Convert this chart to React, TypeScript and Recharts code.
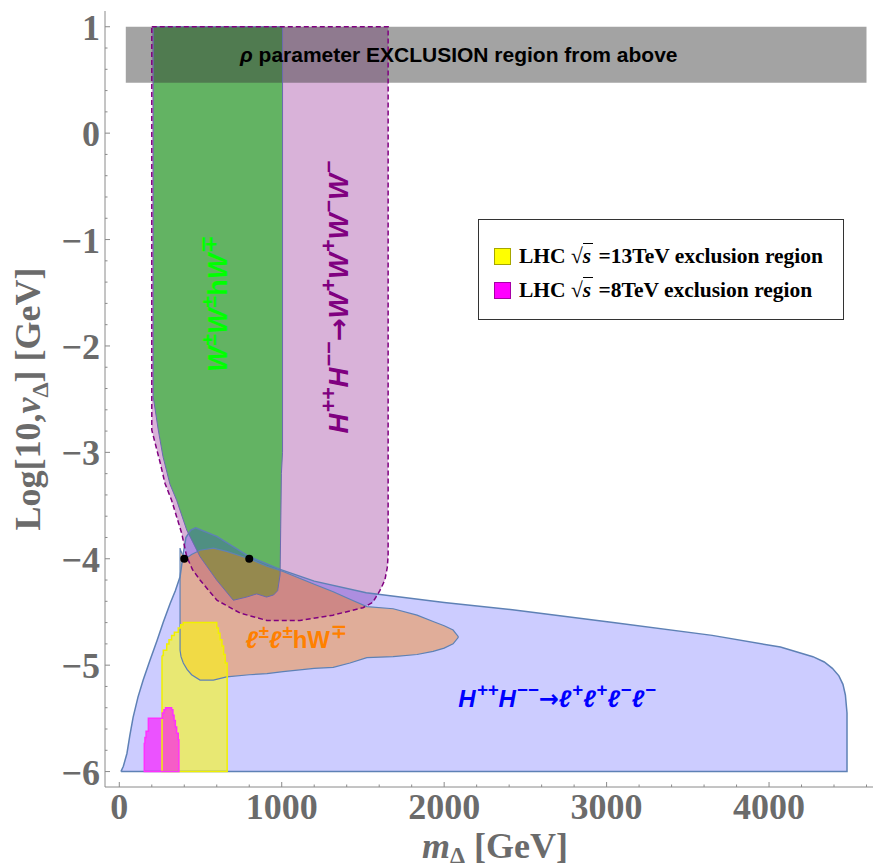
import { ComposedChart, Area, Line, Scatter, XAxis, YAxis, Legend, Label } from 'recharts';

// plot limits that close the regions
const V_MIN = -6;
const V_TOP = 1;

// H++H-- -> l+l+l-l- (blue)
const leptonMass = [10, 25, 47, 65, 85, 115, 147, 190, 232, 270, 313, 345, 374, 392, 410, 440, 470, 600, 800, 990, 1200, 1520, 2000, 2420, 3040, 3650, 4070, 4270, 4340, 4390, 4430, 4455, 4470, 4480];
const leptonUpper = [-6, -5.95, -5.83, -5.66, -5.49, -5.3, -5.14, -4.95, -4.77, -4.6, -4.42, -4.3, -4.17, -3.97, -3.8, -3.73, -3.71, -3.79, -3.98, -4.1, -4.21, -4.32, -4.41, -4.48, -4.6, -4.72, -4.83, -4.92, -4.97, -5.03, -5.1, -5.18, -5.28, -5.45];

// l±l±hW∓ (orange)
const hwMass = [374, 380, 394, 417, 445, 497, 579, 661, 800, 909, 1008, 1200, 1317, 1420, 1524, 1686, 1833, 1932, 2000, 2055, 2086];
const hwUpper = [-3.9, -3.93, -3.98, -3.99, -3.96, -3.92, -3.9, -3.93, -4.0, -4.07, -4.12, -4.24, -4.31, -4.38, -4.45, -4.47, -4.53, -4.59, -4.63, -4.67, -4.73];
const hwLower = [-4.86, -4.92, -4.98, -5.04, -5.09, -5.14, -5.14, -5.11, -5.09, -5.08, -5.06, -5.03, -5.02, -4.98, -4.93, -4.92, -4.9, -4.87, -4.84, -4.8, -4.74];

// H++H-- -> W+W+W-W- (purple, dashed)
const wwwwMass = [200, 220, 252, 281, 322, 384, 415, 450, 497, 601, 743, 909, 1112, 1315, 1500, 1560, 1604, 1635, 1650, 1655];
const wwwwLower = [-2.79, -2.91, -3.1, -3.29, -3.45, -3.76, -3.98, -4.1, -4.2, -4.39, -4.51, -4.58, -4.58, -4.53, -4.46, -4.41, -4.3, -4.2, -4.08, -3.97];

// W±W±hW∓ (green)
const wwhwMass = [209, 240, 269, 312, 353, 415, 497, 599, 702, 784, 846, 907, 950, 975, 990, 998, 1005];
const wwhwLower = [-2.48, -2.79, -3.04, -3.3, -3.45, -3.73, -3.98, -4.2, -4.39, -4.36, -4.33, -4.36, -4.34, -4.3, -4.15, -3.2, -3.0];

// LHC exclusions (stepped)
const lhc13Mass = [263, 271, 292, 306, 322, 339, 363, 378, 394, 600, 610, 620, 632, 642, 652, 664];
const lhc13Upper = [-4.91, -4.86, -4.8, -4.76, -4.72, -4.69, -4.65, -4.62, -4.6, -4.65, -4.7, -4.76, -4.82, -4.9, -4.98, -5.02];
const lhc8Mass = [154, 158, 165, 179, 265, 275, 285, 322, 330, 337, 345, 353, 363, 367];
const lhc8Upper = [-5.73, -5.68, -5.62, -5.5, -5.45, -5.42, -5.4, -5.42, -5.47, -5.52, -5.58, -5.64, -5.7, -5.7];

// rho parameter band
const rhoMass = [40, 4600];
const rhoLower = [0.474, 0.474];
const rhoUpper = [1, 1];

// benchmark points
const benchMass = [400, 800];
const benchV = [-4, -4];

const LEGEND_ENERGY = ['13TeV', '8TeV'];
const LEGEND_COLORS = ['#ffff00', '#ff00ff'];

const FRAME = '#8a8a8a';
const TICK_TEXT = '#6b6b6b';
const SERIF = '"Liberation Serif", "Times New Roman", serif';
const SANS = '"Liberation Sans", Arial, sans-serif';

type Row = { m: number; lo: number; hi: number };

const toRows = (mass: number[], lower: number[] | number, upper: number[] | number): Row[] =>
  mass.map((m, i) => ({
    m,
    lo: Array.isArray(lower) ? lower[i] : lower,
    hi: Array.isArray(upper) ? upper[i] : upper,
  }));

// closed outline: upper edge left->right, lower edge right->left
const toOutline = (rows: Row[]) => [
  ...rows.map(r => ({ m: r.m, v: r.hi })),
  ...rows.slice().reverse().map(r => ({ m: r.m, v: r.lo })),
  { m: rows[0].m, v: rows[0].hi },
];

const leptonRows = toRows(leptonMass, V_MIN, leptonUpper);
const hwRows = toRows(hwMass, hwLower, hwUpper);
const wwwwRows = toRows(wwwwMass, wwwwLower, V_TOP);
const wwhwRows = toRows(wwhwMass, wwhwLower, V_TOP);
const lhc13Rows = toRows(lhc13Mass, V_MIN, lhc13Upper);
const lhc8Rows = toRows(lhc8Mass, V_MIN, lhc8Upper);
const rhoRows = toRows(rhoMass, rhoLower, rhoUpper);
const benchData = benchMass.map((m, i) => ({ m, v: benchV[i] }));

const X_TICKS: number[] = [];
for (let k = 0; k <= 23; k++) X_TICKS.push(k * 200);
const Y_TICKS: number[] = [];
for (let k = -30; k <= 5; k++) Y_TICKS.push(k / 5);

const isMajorY = (v: number) => Math.abs(v - Math.round(v)) < 1e-6;
const fmtY = (v: number) => (v < 0 ? '\u2212' + Math.abs(Math.round(v)) : String(Math.round(v)));

const labelStyle = { fontFamily: SERIF, fontWeight: 'bold', fontSize: 36, fill: TICK_TEXT } as const;

const BottomTick = ({ x, y, payload }: any) => {
  const major = payload.value % 1000 === 0;
  return (
    <g>
      <line x1={x} x2={x} y1={y} y2={y - (major ? 5 : 2.5)} stroke={FRAME} />
      {major && (
        <text x={x} y={y + 32} textAnchor="middle" style={labelStyle}>
          {payload.value}
        </text>
      )}
    </g>
  );
};

const TopTick = ({ x, y, payload }: any) => {
  const major = payload.value % 1000 === 0;
  return <line x1={x} x2={x} y1={y} y2={y + (major ? 5 : 2.5)} stroke={FRAME} />;
};

const LeftTick = ({ x, y, payload }: any) => {
  const major = isMajorY(payload.value);
  return (
    <g>
      <line x1={x} x2={x + (major ? 5 : 2.5)} y1={y} y2={y} stroke={FRAME} />
      {major && (
        <text x={x - 5} y={y} dy="0.36em" textAnchor="end" style={labelStyle}>
          {fmtY(payload.value)}
        </text>
      )}
    </g>
  );
};

const RightTick = ({ x, y, payload }: any) => {
  const major = isMajorY(payload.value);
  return <line x1={x} x2={x - (major ? 5 : 2.5)} y1={y} y2={y} stroke={FRAME} />;
};

const XTitle = ({ viewBox }: any) => (
  <text x={viewBox.x + viewBox.width / 2 + 6} y={viewBox.y + 71} textAnchor="middle" style={labelStyle}>
    <tspan fontStyle="italic">m</tspan>
    <tspan dy={5} fontSize={24}>Δ</tspan>
    <tspan dy={-5}> [GeV]</tspan>
  </text>
);

const YTitle = ({ viewBox }: any) => {
  const cx = 27;
  const cy = viewBox.y + viewBox.height / 2;
  return (
    <text x={cx} y={cy} dy="0.35em" textAnchor="middle" transform={`rotate(-90 ${cx} ${cy})`} style={labelStyle}>
      Log[10,<tspan fontStyle="italic">v</tspan>
      <tspan dy={8} fontSize={24}>Δ</tspan>
      <tspan dy={-8}>] [GeV]</tspan>
    </text>
  );
};

type Tok = { t: string; sup?: boolean; it?: boolean; arrow?: boolean };

// rich text as tspans, superscripts raised and shrunk
const renderToks = (toks: Tok[], fs: number) => {
  const shift = fs * 0.42;
  let prev = 0;
  return toks.map((k, i) => {
    const off = k.sup ? -shift : 0;
    const dy = off - prev;
    prev = off;
    return (
      <tspan
        key={i}
        dy={dy === 0 ? undefined : dy}
        fontSize={k.sup ? fs * 0.78 : fs}
        fontStyle={k.it ? 'italic' : 'normal'}
        fontFamily={k.arrow ? '"DejaVu Sans", sans-serif' : undefined}
        dx={k.sup ? 1 : undefined}
      >
        {k.t}
      </tspan>
    );
  });
};

const WWHW: Tok[] = [
  { t: 'W', it: true }, { t: '±', sup: true },
  { t: 'W', it: true }, { t: '±', sup: true },
  { t: 'h' }, { t: 'W', it: true }, { t: '∓', sup: true },
];
const WWWW: Tok[] = [
  { t: 'H', it: true }, { t: '++', sup: true, it: true },
  { t: 'H', it: true }, { t: '−−', sup: true, it: true },
  { t: '→', arrow: true },
  { t: 'W', it: true }, { t: '+', sup: true },
  { t: 'W', it: true }, { t: '+', sup: true },
  { t: 'W', it: true }, { t: '−', sup: true },
  { t: 'W', it: true }, { t: '−', sup: true },
];
const LLHW: Tok[] = [
  { t: 'ℓ', it: true }, { t: '±', sup: true },
  { t: 'ℓ', it: true }, { t: '±', sup: true },
  { t: 'hW' }, { t: '∓', sup: true },
];
const LLLL: Tok[] = [
  { t: 'H', it: true }, { t: '++', sup: true, it: true },
  { t: 'H', it: true }, { t: '−−', sup: true, it: true },
  { t: '→', arrow: true },
  { t: 'ℓ', it: true }, { t: '+', sup: true },
  { t: 'ℓ', it: true }, { t: '+', sup: true },
  { t: 'ℓ', it: true }, { t: '−', sup: true },
  { t: 'ℓ', it: true }, { t: '−', sup: true },
];

// annotation anchors in data coordinates
const NOTES = [
  { id: 'rho', m: 2090, v: 0.74 },
  { id: 'wwhw', m: 604, v: -1.6 },
  { id: 'wwww', m: 1346, v: -1.54 },
  { id: 'llhw', m: 1089, v: -4.76 },
  { id: 'llll', m: 2696, v: -5.31 },
];

const Note = ({ cx, cy, payload }: any) => {
  const base = { x: cx, y: cy, dy: '0.35em', textAnchor: 'middle' as const, fontFamily: SANS, fontWeight: 'bold' };
  const rot = `rotate(-90 ${cx} ${cy})`;
  switch (payload.id) {
    case 'rho':
      return (
        <text {...base} fontSize={21} fill="#000">
          <tspan fontStyle="italic">ρ</tspan> parameter EXCLUSION region from above
        </text>
      );
    case 'wwhw':
      return (
        <text {...base} fontSize={27} fill="#00ff00" transform={rot}>
          {renderToks(WWHW, 27)}
        </text>
      );
    case 'wwww':
      return (
        <text {...base} fontSize={27.5} fill="#800080" transform={rot}>
          {renderToks(WWWW, 27.5)}
        </text>
      );
    case 'llhw':
      return (
        <text {...base} fontSize={24} fill="#ff8000">
          {renderToks(LLHW, 24)}
        </text>
      );
    default:
      return (
        <text {...base} fontSize={24} fill="#0000ff">
          {renderToks(LLLL, 24)}
        </text>
      );
  }
};

const LegendBox = () => (
  <div
    style={{
      border: '1px solid #333',
      background: '#fff',
      width: 366,
      height: 101,
      boxSizing: 'border-box',
      padding: '19px 0 0 15px',
      fontFamily: SERIF,
      fontWeight: 'bold',
      fontSize: 21.5,
      color: '#000',
      whiteSpace: 'nowrap',
    }}
  >
    {LEGEND_ENERGY.map((e, i) => (
      <div key={e} style={{ display: 'flex', alignItems: 'center', height: 34 }}>
        <span
          style={{
            display: 'inline-block',
            width: 15,
            height: 15,
            background: LEGEND_COLORS[i],
            border: '1px solid rgba(0,0,0,0.35)',
            marginRight: 8,
            flex: 'none',
          }}
        />
        <span>
          LHC √<span style={{ borderTop: '1.5px solid #000', fontStyle: 'italic', paddingRight: 2 }}>s</span> ={e} exclusion region
        </span>
      </div>
    ))}
  </div>
);

const fills = [
  { key: 'wwww', rows: wwwwRows, fill: 'rgba(128,0,128,0.3)', type: 'linear' },
  { key: 'wwhw', rows: wwhwRows, fill: 'rgba(20,180,20,0.6)', type: 'linear' },
  { key: 'llll', rows: leptonRows, fill: 'rgba(0,0,255,0.2)', type: 'linear' },
  { key: 'llhw', rows: hwRows, fill: 'rgba(255,128,0,0.4)', type: 'linear' },
  { key: 'lhc13', rows: lhc13Rows, fill: 'rgba(255,255,0,0.55)', type: 'stepAfter' },
  { key: 'lhc8', rows: lhc8Rows, fill: 'rgba(255,0,255,0.6)', type: 'stepAfter' },
  { key: 'rho', rows: rhoRows, fill: 'rgba(60,60,60,0.47)', type: 'linear' },
];

const outlines = [
  { key: 'llll', rows: leptonRows, stroke: '#5e81b5', width: 1.5, dash: undefined, type: 'linear' },
  { key: 'llhw', rows: hwRows, stroke: '#5e81b5', width: 1.2, dash: undefined, type: 'linear' },
  { key: 'wwhw', rows: wwhwRows, stroke: '#6a6ab0', width: 1, dash: undefined, type: 'linear' },
  { key: 'lhc13', rows: lhc13Rows, stroke: '#f0f000', width: 1.5, dash: undefined, type: 'stepAfter' },
  { key: 'lhc8', rows: lhc8Rows, stroke: '#ff30ff', width: 1.5, dash: undefined, type: 'stepAfter' },
  { key: 'wwww', rows: wwwwRows, stroke: '#800080', width: 1.5, dash: '5 3', type: 'linear' },
];

export default function App() {
  return (
    <div style={{ position: 'absolute', left: 0, top: 0, width: 874, height: 867, background: '#fff' }}>
      <ComposedChart width={874} height={867} margin={{ top: 11, right: 1, bottom: 0, left: 0 }}>
        <XAxis
          dataKey="m"
          type="number"
          domain={[-88, 4640]}
          allowDataOverflow
          ticks={X_TICKS}
          interval={0}
          height={80}
          tickSize={0}
          tickMargin={0}
          tickLine={false}
          axisLine={{ stroke: FRAME }}
          tick={<BottomTick />}
        >
          <Label content={<XTitle />} />
        </XAxis>
        <XAxis
          xAxisId="top"
          orientation="top"
          dataKey="m"
          type="number"
          domain={[-88, 4640]}
          allowDataOverflow
          ticks={X_TICKS}
          interval={0}
          height={0}
          tickSize={0}
          tickMargin={0}
          tickLine={false}
          axisLine={{ stroke: FRAME }}
          tick={<TopTick />}
        />
        <YAxis
          type="number"
          domain={[-6.145, 1.148]}
          allowDataOverflow
          ticks={Y_TICKS}
          interval={0}
          width={105}
          tickSize={0}
          tickMargin={0}
          tickLine={false}
          axisLine={{ stroke: FRAME }}
          tick={<LeftTick />}
        >
          <Label content={<YTitle />} />
        </YAxis>
        <YAxis
          yAxisId="right"
          orientation="right"
          type="number"
          domain={[-6.145, 1.148]}
          allowDataOverflow
          ticks={Y_TICKS}
          interval={0}
          width={0}
          tickSize={0}
          tickMargin={0}
          tickLine={false}
          axisLine={{ stroke: FRAME }}
          tick={<RightTick />}
        />

        {fills.map(f => (
          <Area
            key={'fill-' + f.key}
            data={f.rows}
            dataKey={(d: Row) => [d.lo, d.hi]}
            type={f.type as any}
            fill={f.fill}
            fillOpacity={1}
            stroke="none"
            isAnimationActive={false}
            activeDot={false}
            dot={false}
          />
        ))}

        {outlines.map(o => (
          <Line
            key={'edge-' + o.key}
            data={toOutline(o.rows)}
            dataKey="v"
            type={o.type as any}
            stroke={o.stroke}
            strokeWidth={o.width}
            strokeDasharray={o.dash}
            dot={false}
            activeDot={false}
            isAnimationActive={false}
          />
        ))}

        <Scatter data={benchData} dataKey="v" fill="#000" isAnimationActive={false} shape={(p: any) => <circle cx={p.cx} cy={p.cy} r={4} fill="#000" />} />
        <Scatter data={NOTES.map(n => ({ m: n.m, v: n.v, id: n.id }))} dataKey="v" isAnimationActive={false} shape={(p: any) => <Note {...p} />} />

        <Legend
          content={<LegendBox />}
          layout="vertical"
          align="center"
          verticalAlign="middle"
          wrapperStyle={{ left: 478, top: 219, width: 366, height: 101 }}
        />
      </ComposedChart>
    </div>
  );
}
